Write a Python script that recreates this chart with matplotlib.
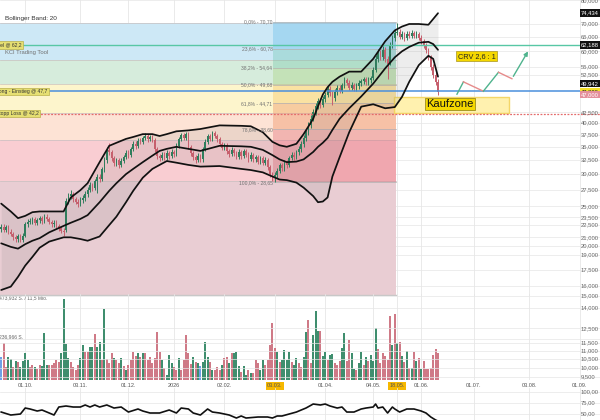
import numpy as np
import pandas as pd
import matplotlib
matplotlib.use("Agg")
import matplotlib.pyplot as plt

plt.rcParams["font.family"] = ["Liberation Sans", "DejaVu Sans"]

# ---------------- data (prices in thousands) ----------------
FIRST_DAY, LAST_DAY = "2025-09-17", "2026-09-30"
HOLIDAYS = ["2025-12-24", "2025-12-25", "2025-12-26", "2025-12-31", "2026-01-01",
            "2026-04-03", "2026-04-06", "2026-05-01"]

opens = [22.0, 22.3, 21.9, 22.2, 21.7, 21.4, 21.0, 20.8, 21.1, 20.7,
         21.2, 22.6, 22.9, 23.0, 23.3, 22.8, 23.1, 23.4, 23.0, 23.6,
         23.3, 22.9, 22.6, 22.8, 22.4, 22.1, 21.8, 21.9, 25.8, 26.5,
         26.8, 26.0, 25.7, 25.4, 25.9, 26.2, 26.8, 27.5, 28.2, 27.8,
         28.8, 29.6, 29.2, 30.8, 32.5, 34.4, 34.0, 32.8, 31.9, 32.4,
         31.6, 32.3, 33.0, 33.8, 33.4, 34.5, 35.6, 35.1, 36.2, 36.0,
         36.8, 37.3, 36.5, 37.0, 36.4, 34.5, 33.2, 32.8, 33.5, 32.9,
         33.8, 33.2, 34.0, 33.6, 35.2, 36.5, 37.4, 36.8, 37.6, 35.0,
         33.8, 33.0, 32.5, 33.3, 32.6, 34.5, 36.0, 37.2, 36.6, 37.8,
         37.3, 36.5, 35.6, 34.8, 35.3, 34.2, 33.6, 34.4, 33.8, 33.1,
         34.0, 33.2, 34.1, 33.5, 32.7, 33.4, 32.6, 33.0, 32.2, 32.8,
         32.0, 32.5, 31.2, 30.0, 29.4, 29.8, 30.6, 31.5, 31.0, 32.0,
         31.6, 32.8, 33.5, 33.0, 33.9, 34.6, 35.5, 36.8, 38.0, 39.5,
         41.0, 42.5, 44.0, 45.2, 44.4, 45.8, 47.0, 48.5, 47.3, 46.0,
         47.6, 48.9, 48.0, 49.5, 51.0, 50.2, 48.8, 49.6, 48.6, 49.3,
         50.1, 50.6, 51.2, 50.4, 51.0, 51.5, 54.0, 57.5, 59.5, 58.0,
         60.5, 57.5, 56.0, 62.0, 64.5, 66.5, 67.0, 65.0, 66.0, 64.5,
         66.2, 65.5, 66.4, 65.5, 66.0, 64.8, 63.5, 62.0, 60.3, 58.0,
         55.0, 52.5, 50.5]
closes = [22.3, 21.9, 22.2, 21.7, 21.4, 21.0, 20.8, 21.1, 20.7, 21.2,
          22.6, 22.9, 23.0, 23.3, 22.8, 23.1, 23.4, 23.0, 23.6, 23.3,
          22.9, 22.6, 22.8, 22.4, 22.1, 21.8, 21.6, 25.8, 26.5, 26.8,
          26.0, 25.7, 25.4, 25.9, 26.2, 26.8, 27.5, 28.2, 27.8, 28.8,
          29.6, 29.2, 30.8, 32.5, 34.4, 34.0, 32.8, 31.9, 32.4, 31.6,
          32.3, 33.0, 33.8, 33.4, 34.5, 35.6, 35.1, 36.2, 36.0, 36.8,
          37.3, 36.5, 37.0, 36.4, 34.5, 33.2, 32.8, 33.5, 32.9, 33.8,
          33.2, 34.0, 33.6, 35.2, 36.5, 37.4, 36.8, 37.6, 35.0, 33.8,
          33.0, 32.5, 33.3, 32.6, 34.5, 36.0, 37.2, 36.6, 37.8, 37.3,
          36.5, 35.6, 34.8, 35.3, 34.2, 33.6, 34.4, 33.8, 33.1, 34.0,
          33.2, 34.1, 33.5, 32.7, 33.4, 32.6, 33.0, 32.2, 32.8, 32.0,
          32.5, 31.2, 30.0, 29.4, 29.8, 30.6, 31.5, 31.0, 32.0, 31.6,
          32.8, 33.5, 33.0, 33.9, 34.6, 35.5, 36.8, 38.0, 39.5, 41.0,
          42.5, 44.0, 45.2, 44.4, 45.8, 47.0, 48.5, 47.3, 46.0, 47.6,
          48.9, 48.0, 49.5, 51.0, 50.2, 48.8, 49.6, 48.6, 49.3, 50.1,
          50.6, 51.2, 50.4, 51.0, 51.5, 54.0, 57.5, 59.5, 58.0, 60.5,
          57.5, 56.0, 62.0, 64.5, 66.5, 67.0, 65.0, 66.0, 64.5, 66.2,
          65.5, 66.4, 65.5, 66.0, 64.8, 63.5, 62.0, 60.3, 58.0, 55.0,
          52.5, 50.5, 47.6]
highs = [22.6, 22.6, 22.5, 22.5, 22.0, 21.7, 21.3, 21.4, 21.4, 21.5,
         22.9, 23.3, 23.4, 23.6, 23.6, 23.4, 23.7, 23.7, 24.0, 23.9,
         23.6, 23.2, 23.1, 23.1, 22.7, 22.4, 22.1, 26.2, 27.0, 27.4,
         27.1, 26.4, 26.1, 26.3, 26.6, 27.2, 27.9, 28.7, 28.6, 29.2,
         30.1, 30.0, 31.3, 33.0, 34.9, 35.8, 34.4, 33.2, 32.9, 32.8,
         32.8, 33.5, 34.3, 34.3, 35.0, 36.1, 36.1, 36.7, 36.7, 37.3,
         37.9, 37.7, 37.5, 37.4, 36.8, 34.9, 33.6, 34.0, 33.9, 34.3,
         34.2, 34.5, 34.4, 35.7, 37.0, 37.9, 37.8, 38.1, 38.0, 35.4,
         34.2, 33.4, 33.8, 33.7, 35.0, 36.5, 37.7, 37.6, 38.3, 38.2,
         37.7, 36.9, 36.0, 35.8, 35.7, 34.6, 34.9, 34.8, 34.2, 34.5,
         34.4, 34.6, 34.5, 33.9, 33.9, 33.8, 33.5, 33.4, 33.3, 33.2,
         33.0, 32.9, 31.6, 30.4, 30.3, 31.1, 32.0, 31.9, 32.5, 32.4,
         33.3, 34.0, 33.9, 34.4, 35.1, 36.2, 37.5, 38.7, 40.3, 41.8,
         43.3, 44.8, 46.0, 46.0, 46.6, 47.8, 49.3, 49.2, 48.0, 48.4,
         49.7, 49.6, 50.3, 51.8, 51.7, 50.9, 50.4, 50.3, 50.1, 50.9,
         51.4, 52.0, 51.9, 51.8, 52.3, 55.0, 58.6, 60.8, 60.6, 61.7,
         61.4, 58.4, 63.2, 65.7, 68.0, 70.5, 68.2, 67.2, 67.0, 67.3,
         67.2, 67.5, 67.4, 67.1, 66.9, 65.6, 64.3, 62.9, 61.2, 58.8,
         55.8, 53.3, 51.2]
lows = [21.7, 21.6, 21.6, 21.4, 21.1, 20.7, 20.5, 20.5, 20.4, 20.4,
        21.0, 22.3, 22.6, 22.7, 22.5, 22.5, 22.8, 22.7, 22.8, 23.0,
        22.6, 22.3, 22.3, 22.1, 21.8, 21.5, 21.2, 21.7, 25.4, 26.1,
        25.6, 25.3, 24.9, 25.0, 25.5, 25.8, 26.4, 27.1, 27.3, 27.4,
        27.0, 28.7, 28.9, 30.4, 32.0, 33.5, 32.3, 31.4, 31.4, 31.1,
        31.2, 31.9, 32.6, 32.9, 33.0, 34.1, 34.6, 34.7, 35.5, 35.6,
        36.4, 36.0, 36.1, 35.9, 34.0, 32.7, 32.3, 32.4, 32.4, 32.5,
        32.7, 32.8, 33.1, 33.2, 34.8, 36.1, 36.3, 36.4, 34.5, 33.3,
        32.5, 32.0, 32.1, 32.1, 32.2, 34.1, 35.6, 36.1, 36.2, 36.8,
        36.0, 35.1, 34.3, 34.4, 33.7, 33.1, 33.2, 33.3, 32.6, 32.7,
        32.7, 32.8, 33.0, 32.2, 32.3, 32.1, 32.2, 31.7, 31.8, 31.5,
        31.6, 30.7, 29.5, 28.9, 28.65, 29.4, 30.2, 30.5, 30.6, 31.1,
        31.2, 32.4, 32.5, 32.6, 33.5, 34.0, 35.0, 36.2, 37.4, 38.9,
        40.4, 41.8, 43.3, 43.6, 43.8, 45.1, 46.3, 46.6, 44.2, 45.3,
        46.9, 47.3, 47.3, 48.8, 49.5, 48.1, 48.1, 47.9, 47.9, 48.6,
        49.4, 49.9, 49.7, 49.7, 50.3, 51.0, 53.3, 56.6, 57.0, 57.2,
        56.6, 51.2, 55.4, 61.2, 63.6, 65.6, 64.2, 64.2, 63.6, 63.8,
        64.6, 64.7, 64.6, 64.6, 63.9, 62.6, 61.0, 59.3, 57.0, 54.0,
        51.6, 49.6, 46.8]

# volume in thousand shares, bar colour codes (g = up, r = down, b = unchanged)
volume_k = [135, 212, 77, 135, 120, 73, 112, 106, 73, 112,
            158, 116, 73, 87, 77, 62, 87, 81, 274, 87,
            87, 87, 97, 116, 106, 154, 467, 208, 125, 106,
            73, 58, 87, 125, 203, 164, 164, 193, 189, 264,
            193, 222, 116, 409, 120, 97, 158, 125, 116, 100,
            125, 81, 58, 87, 116, 164, 139, 158, 135, 154,
            154, 116, 135, 100, 125, 280, 164, 116, 68, 29,
            145, 97, 73, 58, 125, 58, 116, 261, 154, 93,
            135, 106, 100, 81, 106, 222, 135, 106, 58, 58,
            77, 58, 87, 125, 135, 100, 154, 154, 164, 81,
            48, 81, 29, 58, 42, 39, 116, 100, 58, 116,
            87, 116, 203, 328, 183, 164, 106, 116, 174, 116,
            164, 106, 87, 125, 97, 77, 135, 280, 347, 100,
            261, 401, 286, 286, 139, 164, 116, 145, 151, 100,
            87, 110, 183, 270, 112, 232, 154, 62, 58, 100,
            164, 87, 135, 112, 145, 112, 299, 178, 100, 158,
            139, 116, 371, 203, 380, 216, 218, 139, 106, 168,
            68, 68, 164, 112, 125, 62, 110, 64, 62, 68,
            145, 178, 154]
volume_col = ("brrggrgrgg" "ggrrgrrggg" "rrrrrggggr" "rrrggrrggr" "ggrgrrrgrr"
              "grgrrrrgrg" "rrrrrrrgrg" "ggrrgrrrrr" "grgbgggrgr" "rrgrrgrggg"
              "rggrgrrrgg" "rrrrrgrggg" "grggrr" "ggrr" "gggrggrggr"
              "rrggrrggrg" "grgrgggrrr" "rrrgrgrgrg" "rgrgrgrrrr" "rrr")
VOL_MAX_LABEL = "473,932 S. / 11,5 Mio."
VOL_MID_LABEL = "236,966 S."

# Bollinger band (20) read at these trading-day indices
band_idx = [0, 4, 7, 10, 13, 16, 20, 26, 29, 33, 36, 41, 45, 48, 52, 55, 59, 63,
            66, 69, 73, 78, 83, 91, 100, 104, 109, 113, 116, 119, 123, 126, 130,
            132, 134, 136, 138, 141, 145, 150, 155, 160, 164, 167, 170, 174, 178,
            180, 182]
bb_upper = [25.4, 24.3, 23.4, 23.7, 24.2, 24.3, 24.3, 24.3, 26.3, 27.4, 28.5, 32.1,
            35.2, 35.8, 36.6, 37.0, 37.6, 37.6, 37.2, 37.6, 38.2, 38.4, 38.7, 39.5,
            39.4, 39.3, 38.0, 36.0, 35.3, 35.0, 35.6, 37.6, 41.0, 44.0, 47.0, 49.0,
            50.5, 52.0, 53.5, 53.5, 57.5, 63.5, 67.5, 69.0, 70.0, 70.0, 69.7, 72.0,
            74.4]
bb_mid = [20.3, 19.9, 19.7, 20.2, 20.6, 20.9, 21.6, 22.4, 22.8, 23.3, 23.8, 25.6,
          27.3, 28.5, 30.0, 30.9, 32.1, 33.3, 34.2, 34.6, 35.0, 34.6, 34.2, 35.2,
          35.1, 35.0, 34.4, 33.4, 32.6, 32.1, 32.2, 32.6, 34.0, 35.0, 35.8, 36.8,
          38.5, 41.0, 43.5, 46.5, 50.0, 54.5, 58.0, 60.0, 61.5, 63.0, 63.3, 62.5,
          60.5]
bb_lower = [15.6, 15.9, 16.8, 17.9, 18.8, 19.8, 20.5, 21.0, 21.0, 20.8, 20.6, 21.1,
            22.5, 23.6, 25.6, 27.3, 29.4, 30.9, 31.6, 32.3, 32.0, 31.6, 31.3, 31.4,
            30.9, 30.7, 30.3, 29.6, 29.1, 29.0, 28.6, 27.8, 26.5, 25.6, 25.7, 26.3,
            29.6, 33.0, 38.0, 43.9, 44.5, 43.5, 43.8, 46.4, 50.5, 55.5, 58.5, 57.5,
            52.0]

# lower indicator line (0..100)
rsi_idx = [0, 4, 8, 10, 12, 15, 17, 20, 22, 24, 27, 30, 33, 35, 37, 39, 41, 44, 47,
           50, 53, 57, 59, 62, 66, 70, 73, 75, 78, 80, 83, 86, 88, 91, 95, 98, 100,
           102, 107, 111, 113, 115, 117, 120, 123, 125, 127, 130, 133, 135, 137,
           140, 142, 144, 147, 150, 152, 155, 156, 157, 159, 161, 163, 164, 166,
           169, 172, 175, 177, 179, 181, 182]
rsi_val = [54.5, 47.7, 50.0, 63.6, 61.4, 56.8, 59.1, 52.3, 47.7, 65.9, 68.2, 65.9,
           65.9, 70.5, 65.9, 70.5, 65.9, 70.5, 63.6, 65.9, 54.5, 61.4, 56.8, 52.3,
           52.3, 59.1, 52.3, 63.6, 61.4, 52.3, 47.7, 61.4, 54.5, 52.3, 47.7, 40.9,
           45.5, 40.9, 43.2, 43.2, 40.9, 45.5, 45.5, 50.0, 54.5, 59.1, 63.6, 72.7,
           70.5, 72.7, 68.2, 63.6, 65.9, 54.5, 54.5, 61.4, 63.6, 65.9, 72.7, 63.6,
           65.9, 52.3, 65.9, 61.4, 54.5, 61.4, 61.4, 56.8, 52.3, 43.2, 36.4, 34.0]

date_ticks = [("2025-10-01", "01.10."), ("2025-11-03", "03.11."), ("2025-12-01", "01.12."),
              ("2026-01-02", "2026"), ("2026-02-02", "02.02."), ("2026-03-03", "03.03."),
              ("2026-04-01", "01.04."), ("2026-05-04", "04.05."), ("2026-05-18", "18.05."),
              ("2026-06-01", "01.06."), ("2026-07-01", "01.07."), ("2026-08-03", "03.08."),
              ("2026-09-01", "01.09.")]
marked_dates = ["03.03.", "18.05."]

price_ticks = [80, 70, 65, 60, 55, 52.5, 42.5, 40, 37.5, 35, 32.5, 30, 27.5, 25,
               23.5, 22.5, 21, 20, 19, 17.5, 16]
vol_scale_ticks = [15000, 14000, 12500, 11500, 11000, 10500, 10000, 9500]
rsi_ticks = [100, 75, 50]

# KCI trading tool zones (behind the chart) and Fibonacci retracement 03.03. -> 18.05.
zone_bounds = [70.4, 57.1, 49.75, 42.3, 36.3, 28.9, 15.15]
fib_levels = [70.70, 60.78, 54.64, 49.68, 44.71, 38.60, 28.65]
fib_labels = ["0,0% - 70,70", "23,6% - 60,78", "38,2% - 54,64", "50,0% - 49,68",
              "61,8% - 44,71", "78,6% - 38,60", "100,0% - 28,65"]
zone_end_idx = 164.3
fib_start_idx = 113.3

target, entry, stop = 62.188, 47.830, 42.2
right_boxes = [(74.434, "74,434"), (62.188, "62,188"), (49.942, "49,942"),
               (47.830, "47,830"), (47.0, "47,000")]
kauf_low, kauf_high = 42.4, 46.3
kauf_start, kauf_end = 163.6, 211.6
plan_idx = [189.9, 192.6, 200.9, 207.2, 212.8, 220.1]
plan_price = [47.1, 50.5, 47.9, 53.3, 51.4, 60.8]

# ---------------- styling ----------------
GREEN, RED = "#2f7d5c", "#c65f6d"
VGREEN, VRED, VBLUE = "#3f8e6e", "#cf7a87", "#6e9fe6"
GRID = "#e6e6e6"
LABEL = "#666666"
zone_colors = ["#cde8f6", "#d6ecdc", "#fdf5cc", "#fde3d5", "#f9cdd2", "#e9cdd3"]
fib_colors = [("#5bb8e8", 0.35), ("#5cc0a0", 0.30), ("#9ccc65", 0.30),
              ("#f5b942", 0.30), ("#f09060", 0.40), ("#e06070", 0.35)]

days = pd.bdate_range(FIRST_DAY, LAST_DAY, freq="C", holidays=HOLIDAYS)
tick_pos = [days.get_loc(pd.Timestamp(d)) for d, _ in date_ticks]
XLIM = (-0.5, 249.5)
H = 420.0

fig = plt.figure(figsize=(6, 4.2), dpi=100)
fig.patch.set_facecolor("white")
ax = fig.add_axes([0, 1 - 296 / H, 1, 296 / H])
axv = fig.add_axes([0, 1 - 380 / H, 1, 86 / H])
axr = fig.add_axes([0, 0, 1, 32 / H])
for a in (ax, axv, axr):
    a.set_xlim(*XLIM)
    a.set_facecolor("none")
    for s in a.spines.values():
        s.set_visible(False)
    a.tick_params(left=False, right=False, labelleft=False, bottom=False, labelbottom=False)
    for p in tick_pos:
        a.axvline(p, color=GRID, lw=0.6, zorder=0.5)

# ---- price panel ----
ax.set_yscale("log")
ax.set_ylim(15.08, 80.15)
ax.minorticks_off()
for v in price_ticks:
    ax.axhline(v, color=GRID, lw=0.5, zorder=0.5)
    ax.text(0.968, v, f"{v * 1000:,.0f}", transform=ax.get_yaxis_transform(),
            ha="left", va="center", fontsize=4.2, color=LABEL, zorder=10)

for k, col in enumerate(zone_colors):
    ax.fill_between([XLIM[0], zone_end_idx], zone_bounds[k + 1], zone_bounds[k],
                    color=col, lw=0, zorder=1)
    ax.plot([XLIM[0], zone_end_idx], [zone_bounds[k]] * 2, color="#c8c0c0", lw=0.5, zorder=1.2)
ax.plot([XLIM[0], zone_end_idx], [zone_bounds[-1]] * 2, color="#c8c8c8", lw=1.0, zorder=1.2)
for k, (col, al) in enumerate(fib_colors):
    ax.fill_between([fib_start_idx, zone_end_idx], fib_levels[k + 1], fib_levels[k],
                    color=col, alpha=al, lw=0, zorder=1.5)
for lv, lab in zip(fib_levels, fib_labels):
    ax.plot([fib_start_idx, zone_end_idx], [lv, lv], color="#b0b0b0", lw=0.5, zorder=1.6)
    ax.text(fib_start_idx - 0.3, lv, lab, ha="right", va="center", fontsize=3.6,
            color="#707070", zorder=7)

ax.text(0.008, 0.936, "Bollinger Band: 20", transform=ax.transAxes, fontsize=4.6,
        color="#333333", ha="left", va="center")
ax.text(0.008, 0.821, "KCI Trading Tool", transform=ax.transAxes, fontsize=4.2,
        color="#707070", ha="left", va="center", zorder=7)

# trade levels
ax.axhline(target, color="#58c7a5", lw=1.0, zorder=6)
ax.axhline(entry, color="#4a8fdc", lw=1.1, zorder=6)
ax.axhline(stop, color="#e46c6c", lw=0.9, ls=(0, (1.5, 1.2)), zorder=6)
for lv, lab in [(target, "Ziel @ 62,2"), (entry, "Long - Einstieg @ 47,7"),
                (stop, "Stopp Loss @ 42,2")]:
    ax.text(-0.006, lv, lab, transform=ax.get_yaxis_transform(), ha="left", va="center",
            fontsize=3.6, color="#333333", zorder=9,
            bbox=dict(boxstyle="square,pad=0.25", facecolor="#e6df72",
                      edgecolor="#b9b04a", lw=0.5))

# Bollinger band
ax.fill_between(band_idx, bb_lower, bb_upper, color="#7a7a7a", alpha=0.13, lw=0, zorder=3)
for series in (bb_upper, bb_mid, bb_lower):
    ax.plot(band_idx, series, color="#111111", lw=1.25, zorder=6, solid_capstyle="round")

# candles
o = np.array(opens)
c = np.array(closes)
hi = np.array(highs)
lo = np.array(lows)
idx = np.arange(len(c))
ccol = np.where(c >= o, GREEN, RED)
ax.vlines(idx, lo, hi, colors=ccol, lw=0.7, zorder=4)
ax.bar(idx, np.maximum(np.abs(c - o), 0.08), bottom=np.minimum(o, c), width=0.72,
       color=ccol, lw=0, zorder=5)

# buy zone and plan
ax.fill_between([kauf_start, kauf_end], kauf_low, kauf_high, facecolor="#fff0a6",
                edgecolor="#f3d35c", lw=1.0, alpha=0.9, zorder=2.5)
ax.text((kauf_start + kauf_end) / 2 - 0.5, 44.6, "Kaufzone", ha="center", va="center",
        fontsize=8, color="#111111", zorder=9,
        bbox=dict(boxstyle="square,pad=0.12", facecolor="#f5d800", edgecolor="#8a7c10", lw=0.5))
for k in range(len(plan_idx) - 1):
    col = "#4fb38d" if k % 2 == 0 else "#e68b8b"
    if k == len(plan_idx) - 2:
        ax.annotate("", xy=(plan_idx[k + 1], plan_price[k + 1]), xytext=(plan_idx[k], plan_price[k]),
                    arrowprops=dict(arrowstyle="-|>", color=col, lw=1.0, mutation_scale=6),
                    zorder=8)
    else:
        ax.plot(plan_idx[k:k + 2], plan_price[k:k + 2], color=col, lw=1.0, zorder=8)
ax.text(198.1, 58.4, "CRV 2,6 : 1", ha="center", va="center", fontsize=5.3, color="#222222",
        zorder=9, bbox=dict(boxstyle="square,pad=0.25", facecolor="#f5d800",
                            edgecolor="#a89420", lw=0.5))

# right side price boxes
box_style = {"74,434": ("#111111", "white"), "62,188": ("#111111", "white"),
             "49,942": ("#111111", "white"), "47,830": ("#f6e22a", "#222222"),
             "47,000": ("#e48f9b", "white")}
for v, lab in right_boxes:
    fc, tc = box_style[lab]
    ax.text(0.968, v, lab, transform=ax.get_yaxis_transform(), ha="left", va="center",
            fontsize=4.2, color=tc, zorder=11,
            bbox=dict(boxstyle="square,pad=0.2", facecolor=fc, edgecolor="none"))

# ---- volume panel ----
vcol = {"g": VGREEN, "r": VRED, "b": VBLUE}
axv.bar(np.arange(len(volume_k)), volume_k, width=0.8,
        color=[vcol[ch] for ch in volume_col], lw=0, zorder=3)
axv.set_ylim(0, 497)
axv.axhline(236.966, color=GRID, lw=0.5, zorder=0.5)
axv.text(-0.002, 473.932, VOL_MAX_LABEL, ha="left", va="center", fontsize=3.6, color=LABEL,
         transform=axv.get_yaxis_transform())
axv.text(-0.002, 236.966, VOL_MID_LABEL, ha="left", va="bottom", fontsize=3.6, color=LABEL,
         transform=axv.get_yaxis_transform())
axv2 = axv.twinx()
axv2.set_yscale("log")
axv2.set_ylim(9337, 15170)
axv2.set_xlim(*XLIM)
axv2.minorticks_off()
axv2.set_yticks([])
for s in axv2.spines.values():
    s.set_visible(False)
for v in vol_scale_ticks:
    axv2.axhline(v, color=GRID, lw=0.5, zorder=0.5)
    axv2.text(0.968, v, f"{v:,}", transform=axv2.get_yaxis_transform(), ha="left",
              va="center", fontsize=4.2, color=LABEL)

axv.tick_params(bottom=False, labelbottom=True, length=0, pad=2.5)
axv.set_xticks(tick_pos)
axv.set_xticklabels([lab for _, lab in date_ticks], fontsize=4.0, color="#555555")
for t in axv.get_xticklabels():
    if t.get_text() in marked_dates:
        t.set_bbox(dict(boxstyle="square,pad=0.2", facecolor="#f6b800", edgecolor="none"))

# ---- indicator panel ----
axr.set_ylim(36.4, 109.1)
for v in rsi_ticks:
    axr.axhline(v, color=GRID, lw=0.5, zorder=0.5)
    axr.text(0.968, v, f"{v},00", transform=axr.get_yaxis_transform(), ha="left",
             va="center", fontsize=4.2, color=LABEL)
axr.plot(rsi_idx, rsi_val, color="#111111", lw=1.2, zorder=4)

fig.savefig("out.png", dpi=100, facecolor="white")
